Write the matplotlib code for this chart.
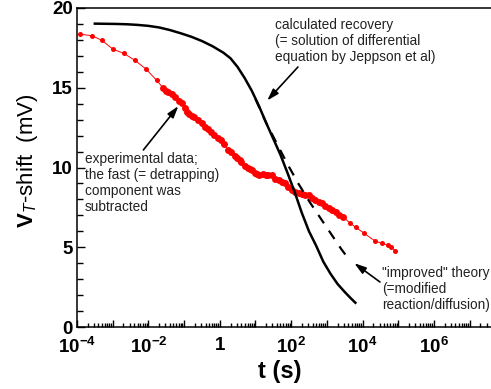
import numpy as np
import matplotlib

matplotlib.use('Agg')
import matplotlib.pyplot as plt
from matplotlib.ticker import FixedLocator, FuncFormatter, LogLocator, MultipleLocator

plt.rcParams['font.family'] = ['Liberation Sans', 'DejaVu Sans']
plt.rcParams['mathtext.fontset'] = 'custom'
plt.rcParams['mathtext.rm'] = 'Liberation Sans'
plt.rcParams['mathtext.it'] = 'Liberation Sans:italic'
plt.rcParams['mathtext.bf'] = 'Liberation Sans:bold'

# experimental data, log10(t) and V_T shift (mV)
exp_early_logt = [-3.91, -3.59, -3.30, -2.99, -2.69, -2.38, -2.07, -1.77]
exp_early_v = [18.35, 18.27, 17.97, 17.41, 17.16, 16.72, 16.18, 15.47]
exp_dense_logt = [-1.58, -1.50, -1.44, -1.35, -1.25, -1.15, -1.06, -0.98, -0.92, -0.85,
                  -0.79, -0.73, -0.62, -0.51, -0.40, -0.32, -0.25, -0.15, -0.05, 0.04,
                  0.12, 0.23, 0.32, 0.42, 0.49, 0.56, 0.60, 0.70, 0.78, 0.84,
                  0.89, 0.98, 1.04, 1.10, 1.20, 1.30, 1.36, 1.45, 1.55, 1.65,
                  1.74, 1.83, 1.92, 2.02, 2.11, 2.21, 2.30, 2.40, 2.49, 2.58,
                  2.68, 2.78, 2.87, 2.96, 3.06, 3.15, 3.25, 3.35, 3.44]
exp_dense_v = [14.97, 14.80, 14.71, 14.58, 14.44, 14.20, 14.02, 13.75, 13.50, 13.35,
               13.25, 13.18, 12.95, 12.77, 12.55, 12.40, 12.24, 12.04, 11.85, 11.72,
               11.50, 11.10, 10.99, 10.75, 10.62, 10.47, 10.36, 10.10, 9.95, 9.90,
               9.85, 9.64, 9.58, 9.55, 9.60, 9.55, 9.53, 9.50, 9.30, 9.20,
               9.11, 9.00, 8.75, 8.60, 8.48, 8.38, 8.35, 8.30, 8.28, 8.10,
               7.95, 7.85, 7.76, 7.60, 7.45, 7.34, 7.20, 7.05, 6.92]
exp_late_logt = [3.64, 3.81, 4.05, 4.35, 4.54, 4.71, 4.80, 4.92]
exp_late_v = [6.54, 6.25, 5.87, 5.39, 5.25, 5.14, 5.03, 4.76]

# calculated recovery (Jeppson et al)
calc_logt = [-3.5, -3.2, -2.9, -2.6, -2.3, -2.0, -1.7, -1.4, -1.1, -0.8,
             -0.5, -0.2, 0.1, 0.3, 0.5, 0.7, 0.9, 1.1, 1.3, 1.5,
             1.7, 1.9, 2.1, 2.3, 2.5, 2.7, 2.9, 3.1, 3.3, 3.5, 3.65, 3.8]
calc_v = [19.02, 19.01, 19.0, 18.98, 18.94, 18.88, 18.78, 18.62, 18.42, 18.2,
          17.93, 17.6, 17.2, 16.85, 16.3, 15.6, 14.8, 13.85, 12.8, 11.8,
          10.8, 9.65, 8.45, 7.15, 6.0, 5.1, 4.1, 3.35, 2.7, 2.2, 1.85, 1.52]

# "improved" theory
impr_logt = [1.0, 1.3, 1.6, 1.9, 2.2, 2.5, 2.8, 3.1, 3.4, 3.6]
impr_v = [14.3, 12.8, 11.5, 10.2, 9.0, 7.9, 6.9, 5.9, 4.9, 4.3]

fig = plt.figure(figsize=(4.91, 3.89), dpi=100)
ax = fig.add_axes([77 / 491, 62 / 389, 414 / 491, 319 / 389])

t_all = 10 ** np.array(exp_early_logt + exp_dense_logt + exp_late_logt)
v_all = np.array(exp_early_v + exp_dense_v + exp_late_v)
ax.plot(t_all, v_all, color='red', lw=0.7, zorder=2)
ax.plot(10 ** np.array(exp_early_logt), exp_early_v, 'o', color='red', ms=3.6, mew=0, zorder=3)
ax.plot(10 ** np.array(exp_dense_logt), exp_dense_v, 'o', color='red', ms=5.0, mew=0, zorder=3)
ax.plot(10 ** np.array(exp_late_logt), exp_late_v, 'o', color='red', ms=3.6, mew=0, zorder=3)

ax.plot(10 ** np.array(calc_logt), calc_v, color='black', lw=1.8, zorder=4)
ax.plot(10 ** np.array(impr_logt), impr_v, color='black', lw=1.6, dashes=(4.5, 4), zorder=4)

ax.set_xscale('log')
ax.set_xlim(1e-4, 10 ** 7.6)
ax.set_ylim(0, 20)

ax.xaxis.set_major_locator(FixedLocator(10.0 ** np.arange(-4, 8)))
ax.xaxis.set_minor_locator(LogLocator(base=10, subs=np.arange(2, 10), numticks=30))


def xfmt(x, pos):
    e = int(round(np.log10(x)))
    if e % 2:
        return ''
    if e == 0:
        return r'$\mathbf{1}$'
    return r'$\mathbf{10^{%d}}$' % e


ax.xaxis.set_major_formatter(FuncFormatter(xfmt))
ax.yaxis.set_major_locator(MultipleLocator(5))
ax.yaxis.set_minor_locator(MultipleLocator(1))

ax.tick_params(which='both', direction='in', top=False, right=False, width=1.0)
ax.tick_params(axis='x', which='major', length=5, pad=7, labelsize=13.5)
ax.tick_params(axis='x', which='minor', length=3)
ax.tick_params(axis='y', which='major', length=6, pad=3, labelsize=13.5)
ax.tick_params(axis='y', which='minor', length=4.5)
for lab in ax.get_yticklabels():
    lab.set_fontweight('bold')

ax.spines['right'].set_visible(False)
for s in ['left', 'bottom', 'top']:
    ax.spines[s].set_linewidth(1.1)

ax.set_xlabel('t (s)', fontsize=17, fontweight='bold')
ax.xaxis.set_label_coords(0.49, -0.102)
ax.set_ylabel(r'$\mathbf{V}_{\mathit{T}}$-shift  (mV)', fontsize=16)
ax.yaxis.set_label_coords(-0.09, 0.52)

txt_color = '#222222'
arrow = dict(arrowstyle='-|>,head_length=0.7,head_width=0.22', color='black', lw=1.2,
             shrinkA=0, shrinkB=0)

ax.text(10 ** 1.56, 19.37, 'calculated recovery\n(= solution of differential\nequation by Jeppson et al)',
        fontsize=9.8, color=txt_color, ha='left', va='top', linespacing=1.2)
ax.annotate('', xy=(10 ** 1.33, 14.2), xytext=(10 ** 2.19, 16.3), arrowprops=arrow)

ax.text(10 ** -3.78, 10.99, 'experimental data;\nthe fast (= detrapping)\ncomponent was\nsubtracted',
        fontsize=9.8, color=txt_color, ha='left', va='top', linespacing=1.2)
ax.annotate('', xy=(10 ** -1.16, 13.85), xytext=(10 ** -2.14, 11.1), arrowprops=arrow)

ax.text(10 ** 4.54, 3.82, '"improved" theory\n(=modified\nreaction/diffusion)',
        fontsize=9.8, color=txt_color, ha='left', va='top', linespacing=1.2)
ax.annotate('', xy=(10 ** 3.77, 4.0), xytext=(10 ** 4.49, 2.82), arrowprops=arrow)

fig.savefig('out.png', dpi=100)
